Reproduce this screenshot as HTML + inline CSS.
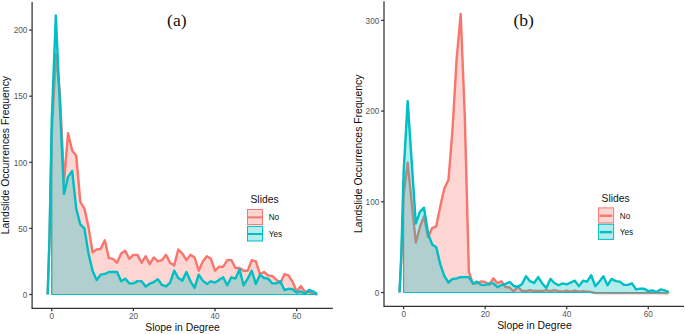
<!DOCTYPE html>
<html><head><meta charset="utf-8"><title>Landslide occurrences frequency vs slope</title>
<style>
html,body{margin:0;padding:0;background:#fff;}
svg{display:block;}
text{font-family:"Liberation Sans",Arial,sans-serif;}
.tk{font-size:8.2px;fill:#555;}
.ti{font-size:10.4px;fill:#111;}
.lt{font-size:10.3px;fill:#111;}
.lb{font-size:8.2px;fill:#111;}
.pl{font-family:"Liberation Serif","Times New Roman",serif;font-size:17.6px;fill:#111;}
</style></head><body>
<svg width="685" height="334" viewBox="0 0 685 334">
<rect width="685" height="334" fill="#fff"/>
<g>
<polyline points="47.67,294.50 49.50,241.28 51.75,133.22 55.83,53.90 59.91,93.56 64.00,182.13 68.08,133.22 72.16,150.40 76.24,155.69 80.32,201.96 84.41,208.57 88.49,227.08 92.57,252.20 96.65,249.55 100.73,248.89 104.82,240.30 108.90,258.14 112.98,258.81 117.06,262.77 121.14,253.52 125.23,250.87 129.31,258.81 133.39,254.84 137.47,254.84 141.55,262.77 145.64,256.16 149.72,264.09 153.80,257.48 157.88,261.45 161.96,260.13 166.05,254.84 170.13,262.77 174.21,265.42 178.29,249.55 182.37,253.52 186.46,260.13 190.54,254.84 194.62,257.48 198.70,270.70 202.78,261.45 206.87,256.16 210.95,258.81 215.03,270.70 219.11,266.74 223.19,266.74 227.28,260.13 231.36,260.13 235.44,268.06 239.52,268.06 243.60,270.70 247.69,270.70 251.77,260.13 255.85,261.45 259.93,274.01 264.01,272.03 268.10,275.33 272.18,275.99 276.26,279.56 280.34,283.26 284.42,274.14 288.51,275.33 292.59,281.81 296.67,291.72 300.75,286.04 304.83,291.72 308.92,291.59 313.00,293.44 317.08,294.50" fill="none" stroke="#F8766D" stroke-width="2.4" stroke-linejoin="round"/>
<polygon points="51.75,294.50 51.75,133.22 55.83,53.90 59.91,93.56 64.00,182.13 68.08,133.22 72.16,150.40 76.24,155.69 80.32,201.96 84.41,208.57 88.49,227.08 92.57,252.20 96.65,249.55 100.73,248.89 104.82,240.30 108.90,258.14 112.98,258.81 117.06,262.77 121.14,253.52 125.23,250.87 129.31,258.81 133.39,254.84 137.47,254.84 141.55,262.77 145.64,256.16 149.72,264.09 153.80,257.48 157.88,261.45 161.96,260.13 166.05,254.84 170.13,262.77 174.21,265.42 178.29,249.55 182.37,253.52 186.46,260.13 190.54,254.84 194.62,257.48 198.70,270.70 202.78,261.45 206.87,256.16 210.95,258.81 215.03,270.70 219.11,266.74 223.19,266.74 227.28,260.13 231.36,260.13 235.44,268.06 239.52,268.06 243.60,270.70 247.69,270.70 251.77,260.13 255.85,261.45 259.93,274.01 264.01,272.03 268.10,275.33 272.18,275.99 276.26,279.56 280.34,283.26 284.42,274.14 288.51,275.33 292.59,281.81 296.67,291.72 300.75,286.04 304.83,291.72 308.92,291.59 313.00,293.44 317.08,294.50 317.08,294.50" fill="#F8766D" fill-opacity="0.3" stroke="#F8766D" stroke-width="1.0" stroke-linejoin="round"/>
<polyline points="47.67,294.50 49.50,236.91 51.75,120.00 55.83,15.56 59.91,105.45 64.00,194.03 68.08,176.84 72.16,170.89 76.24,208.57 80.32,224.43 84.41,228.40 88.49,253.52 92.57,270.70 96.65,279.96 100.73,274.67 104.82,274.01 108.90,272.03 112.98,272.03 117.06,272.03 121.14,281.28 125.23,278.64 129.31,283.40 133.39,283.53 137.47,281.15 141.55,281.15 145.64,286.57 149.72,283.66 153.80,282.07 157.88,279.16 161.96,284.98 166.05,286.30 170.13,282.60 174.21,270.70 178.29,277.98 182.37,280.62 186.46,272.03 190.54,281.28 194.62,287.89 198.70,274.67 202.78,280.62 206.87,283.92 210.95,281.28 215.03,282.60 219.11,279.96 223.19,277.31 227.28,285.25 231.36,277.31 235.44,278.64 239.52,269.38 243.60,285.25 247.69,278.64 251.77,270.70 255.85,283.92 259.93,274.67 264.01,277.98 268.10,278.64 272.18,283.26 276.26,283.40 280.34,281.15 284.42,290.01 288.51,288.82 292.59,289.08 296.67,292.52 300.75,291.33 304.83,293.97 308.92,290.01 313.00,291.33 317.08,293.71" fill="none" stroke="#00BFC4" stroke-width="2.4" stroke-linejoin="round"/>
<polygon points="51.75,294.50 51.75,120.00 55.83,15.56 59.91,105.45 64.00,194.03 68.08,176.84 72.16,170.89 76.24,208.57 80.32,224.43 84.41,228.40 88.49,253.52 92.57,270.70 96.65,279.96 100.73,274.67 104.82,274.01 108.90,272.03 112.98,272.03 117.06,272.03 121.14,281.28 125.23,278.64 129.31,283.40 133.39,283.53 137.47,281.15 141.55,281.15 145.64,286.57 149.72,283.66 153.80,282.07 157.88,279.16 161.96,284.98 166.05,286.30 170.13,282.60 174.21,270.70 178.29,277.98 182.37,280.62 186.46,272.03 190.54,281.28 194.62,287.89 198.70,274.67 202.78,280.62 206.87,283.92 210.95,281.28 215.03,282.60 219.11,279.96 223.19,277.31 227.28,285.25 231.36,277.31 235.44,278.64 239.52,269.38 243.60,285.25 247.69,278.64 251.77,270.70 255.85,283.92 259.93,274.67 264.01,277.98 268.10,278.64 272.18,283.26 276.26,283.40 280.34,281.15 284.42,290.01 288.51,288.82 292.59,289.08 296.67,292.52 300.75,291.33 304.83,293.97 308.92,290.01 313.00,291.33 317.08,293.71 317.08,294.50" fill="#00BFC4" fill-opacity="0.3" stroke="#00BFC4" stroke-width="1.0" stroke-linejoin="round"/>
<path d="M32.1,2.0 V308.25 H332.9" fill="none" stroke="#333" stroke-width="1.25"/>
<line x1="29.200000000000003" x2="32.1" y1="294.50" y2="294.50" stroke="#333" stroke-width="1.25"/>
<text x="27.35" y="297.75" text-anchor="end" class="tk">0</text>
<line x1="29.200000000000003" x2="32.1" y1="228.40" y2="228.40" stroke="#333" stroke-width="1.25"/>
<text x="27.35" y="231.65" text-anchor="end" class="tk">50</text>
<line x1="29.200000000000003" x2="32.1" y1="162.30" y2="162.30" stroke="#333" stroke-width="1.25"/>
<text x="27.35" y="165.55" text-anchor="end" class="tk">100</text>
<line x1="29.200000000000003" x2="32.1" y1="96.20" y2="96.20" stroke="#333" stroke-width="1.25"/>
<text x="27.35" y="99.45" text-anchor="end" class="tk">150</text>
<line x1="29.200000000000003" x2="32.1" y1="30.10" y2="30.10" stroke="#333" stroke-width="1.25"/>
<text x="27.35" y="33.35" text-anchor="end" class="tk">200</text>
<line x1="51.75" x2="51.75" y1="308.25" y2="311.15" stroke="#333" stroke-width="1.25"/>
<text x="51.85" y="318.90000000000003" text-anchor="middle" class="tk">0</text>
<line x1="133.39" x2="133.39" y1="308.25" y2="311.15" stroke="#333" stroke-width="1.25"/>
<text x="133.49" y="318.90000000000003" text-anchor="middle" class="tk">20</text>
<line x1="215.03" x2="215.03" y1="308.25" y2="311.15" stroke="#333" stroke-width="1.25"/>
<text x="215.13" y="318.90000000000003" text-anchor="middle" class="tk">40</text>
<line x1="296.67" x2="296.67" y1="308.25" y2="311.15" stroke="#333" stroke-width="1.25"/>
<text x="296.77" y="318.90000000000003" text-anchor="middle" class="tk">60</text>
<text x="182.6" y="331.1" text-anchor="middle" class="ti">Slope in Degree</text>
<text transform="translate(9.0,155.1) rotate(-90)" text-anchor="middle" class="ti">Landslide Occurrences Frequency</text>
<text x="250.5" y="203.3" class="lt">Slides</text>
<rect x="247.5" y="209.5" width="15" height="15.1" fill="#F8766D" fill-opacity="0.3" stroke="#F8766D" stroke-width="1.0"/>
<line x1="247.2" x2="262.8" y1="217.35" y2="217.35" stroke="#F8766D" stroke-width="2.0"/>
<text x="268.7" y="220.0" class="lb">No</text>
<rect x="247.5" y="226.4" width="15" height="14.6" fill="#00BFC4" fill-opacity="0.3" stroke="#00BFC4" stroke-width="1.0"/>
<line x1="247.2" x2="262.8" y1="234.00" y2="234.00" stroke="#00BFC4" stroke-width="2.0"/>
<text x="268.7" y="236.6" class="lb">Yes</text>
<text x="176.8" y="26.3" text-anchor="middle" class="pl">(a)</text>
</g>
<g>
<polyline points="399.52,292.50 401.36,260.17 403.60,194.54 407.68,162.80 411.76,203.61 415.83,242.62 419.91,227.20 423.99,216.31 428.07,237.17 432.15,228.10 436.22,226.29 440.30,206.33 444.38,188.19 448.46,180.03 452.54,129.24 456.61,59.40 460.69,14.05 464.77,115.63 468.85,271.64 472.93,283.88 477.00,283.16 481.08,281.34 485.16,281.89 489.24,284.88 493.32,278.35 497.39,283.16 501.47,281.34 505.55,287.06 509.63,287.51 513.71,291.50 517.78,286.60 521.86,291.05 525.94,291.05 530.02,290.14 534.10,291.05 538.17,291.05 542.25,291.05 546.33,290.14 550.41,291.05 554.49,290.14 558.56,291.14 562.64,291.59 566.72,290.69 570.80,291.59 574.88,290.69 578.95,291.59 583.03,291.14 587.11,291.59 591.19,292.05 595.27,293.13 599.34,293.13 603.42,293.13 607.50,293.13 611.58,293.13 615.66,293.13 619.73,293.13 623.81,293.13 627.89,293.13 631.97,293.13 636.05,293.13 640.12,293.13 644.20,293.13 648.28,293.13 652.36,293.13 656.44,293.13 660.51,293.13 664.59,293.13 668.67,293.13" fill="none" stroke="#F8766D" stroke-width="2.4" stroke-linejoin="round"/>
<polygon points="403.60,292.50 403.60,194.54 407.68,162.80 411.76,203.61 415.83,242.62 419.91,227.20 423.99,216.31 428.07,237.17 432.15,228.10 436.22,226.29 440.30,206.33 444.38,188.19 448.46,180.03 452.54,129.24 456.61,59.40 460.69,14.05 464.77,115.63 468.85,271.64 472.93,283.88 477.00,283.16 481.08,281.34 485.16,281.89 489.24,284.88 493.32,278.35 497.39,283.16 501.47,281.34 505.55,287.06 509.63,287.51 513.71,291.50 517.78,286.60 521.86,291.05 525.94,291.05 530.02,290.14 534.10,291.05 538.17,291.05 542.25,291.05 546.33,290.14 550.41,291.05 554.49,290.14 558.56,291.14 562.64,291.59 566.72,290.69 570.80,291.59 574.88,290.69 578.95,291.59 583.03,291.14 587.11,291.59 591.19,292.05 595.27,292.50 599.34,292.50 603.42,292.50 607.50,292.50 611.58,292.50 615.66,292.50 619.73,292.50 623.81,292.50 627.89,292.50 631.97,292.50 636.05,292.50 640.12,292.50 644.20,292.50 648.28,292.50 652.36,292.50 656.44,292.50 660.51,292.50 664.59,292.50 668.67,292.50 668.67,292.50" fill="#F8766D" fill-opacity="0.3" stroke="#F8766D" stroke-width="1.0" stroke-linejoin="round"/>
<polyline points="399.52,292.50 401.36,252.99 403.60,172.78 407.68,101.12 411.76,162.80 415.83,223.57 419.91,211.78 423.99,207.70 428.07,233.55 432.15,244.43 436.22,247.15 440.30,264.38 444.38,276.17 448.46,282.52 452.54,278.89 456.61,278.44 460.69,277.08 464.77,277.08 468.85,277.08 472.93,283.43 477.00,281.62 481.08,284.88 485.16,284.97 489.24,283.34 493.32,283.34 497.39,287.06 501.47,285.06 505.55,283.97 509.63,281.98 513.71,285.97 517.78,286.88 521.86,284.34 525.94,276.17 530.02,281.16 534.10,282.98 538.17,277.08 542.25,283.43 546.33,287.96 550.41,278.89 554.49,282.98 558.56,285.24 562.64,283.43 566.72,284.34 570.80,282.52 574.88,280.71 578.95,286.15 583.03,280.71 587.11,281.62 591.19,275.27 595.27,286.15 599.34,281.62 603.42,276.17 607.50,285.24 611.58,278.89 615.66,281.16 619.73,281.62 623.81,284.79 627.89,284.88 631.97,283.34 636.05,289.42 640.12,288.60 644.20,288.78 648.28,291.14 652.36,290.32 656.44,292.14 660.51,289.42 664.59,290.32 668.67,291.96" fill="none" stroke="#00BFC4" stroke-width="2.4" stroke-linejoin="round"/>
<polygon points="403.60,292.50 403.60,172.78 407.68,101.12 411.76,162.80 415.83,223.57 419.91,211.78 423.99,207.70 428.07,233.55 432.15,244.43 436.22,247.15 440.30,264.38 444.38,276.17 448.46,282.52 452.54,278.89 456.61,278.44 460.69,277.08 464.77,277.08 468.85,277.08 472.93,283.43 477.00,281.62 481.08,284.88 485.16,284.97 489.24,283.34 493.32,283.34 497.39,287.06 501.47,285.06 505.55,283.97 509.63,281.98 513.71,285.97 517.78,286.88 521.86,284.34 525.94,276.17 530.02,281.16 534.10,282.98 538.17,277.08 542.25,283.43 546.33,287.96 550.41,278.89 554.49,282.98 558.56,285.24 562.64,283.43 566.72,284.34 570.80,282.52 574.88,280.71 578.95,286.15 583.03,280.71 587.11,281.62 591.19,275.27 595.27,286.15 599.34,281.62 603.42,276.17 607.50,285.24 611.58,278.89 615.66,281.16 619.73,281.62 623.81,284.79 627.89,284.88 631.97,283.34 636.05,289.42 640.12,288.60 644.20,288.78 648.28,291.14 652.36,290.32 656.44,292.14 660.51,289.42 664.59,290.32 668.67,291.96 668.67,292.50" fill="#00BFC4" fill-opacity="0.3" stroke="#00BFC4" stroke-width="1.0" stroke-linejoin="round"/>
<path d="M384.0,1.2 V306.3 H684" fill="none" stroke="#333" stroke-width="1.25"/>
<line x1="381.1" x2="384.0" y1="292.50" y2="292.50" stroke="#333" stroke-width="1.25"/>
<text x="379.25" y="295.75" text-anchor="end" class="tk">0</text>
<line x1="381.1" x2="384.0" y1="201.80" y2="201.80" stroke="#333" stroke-width="1.25"/>
<text x="379.25" y="205.05" text-anchor="end" class="tk">100</text>
<line x1="381.1" x2="384.0" y1="111.10" y2="111.10" stroke="#333" stroke-width="1.25"/>
<text x="379.25" y="114.35" text-anchor="end" class="tk">200</text>
<line x1="381.1" x2="384.0" y1="20.40" y2="20.40" stroke="#333" stroke-width="1.25"/>
<text x="379.25" y="23.65" text-anchor="end" class="tk">300</text>
<line x1="403.60" x2="403.60" y1="306.3" y2="309.2" stroke="#333" stroke-width="1.25"/>
<text x="403.70" y="316.90000000000003" text-anchor="middle" class="tk">0</text>
<line x1="485.16" x2="485.16" y1="306.3" y2="309.2" stroke="#333" stroke-width="1.25"/>
<text x="485.26" y="316.90000000000003" text-anchor="middle" class="tk">20</text>
<line x1="566.72" x2="566.72" y1="306.3" y2="309.2" stroke="#333" stroke-width="1.25"/>
<text x="566.82" y="316.90000000000003" text-anchor="middle" class="tk">40</text>
<line x1="648.28" x2="648.28" y1="306.3" y2="309.2" stroke="#333" stroke-width="1.25"/>
<text x="648.38" y="316.90000000000003" text-anchor="middle" class="tk">60</text>
<text x="534.4" y="329.2" text-anchor="middle" class="ti">Slope in Degree</text>
<text transform="translate(361.6,153.8) rotate(-90)" text-anchor="middle" class="ti">Landslide Occurrences Frequency</text>
<text x="601.6" y="201.7" class="lt">Slides</text>
<rect x="598.6" y="207.9" width="15" height="15.1" fill="#F8766D" fill-opacity="0.3" stroke="#F8766D" stroke-width="1.0"/>
<line x1="599.7" x2="612.1" y1="215.75" y2="215.75" stroke="#F8766D" stroke-width="2.4"/>
<text x="619.8" y="218.9" class="lb">No</text>
<rect x="598.6" y="224.3" width="15" height="15.1" fill="#00BFC4" fill-opacity="0.3" stroke="#00BFC4" stroke-width="1.0"/>
<line x1="599.7" x2="612.1" y1="232.15" y2="232.15" stroke="#00BFC4" stroke-width="2.4"/>
<text x="619.8" y="235.3" class="lb">Yes</text>
<text x="523.7" y="25.8" text-anchor="middle" class="pl">(b)</text>
</g>
</svg>
</body></html>
